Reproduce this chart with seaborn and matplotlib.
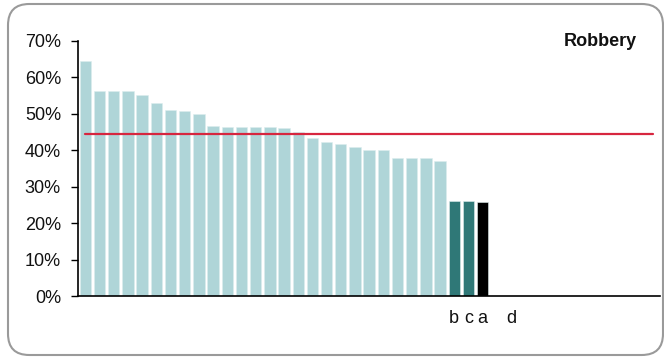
import numpy as np
import pandas as pd
import matplotlib
matplotlib.use("Agg")
import matplotlib.pyplot as plt
from matplotlib.patches import FancyBboxPatch
from matplotlib.ticker import PercentFormatter
import seaborn as sns

# ---- data ----
slots = [f"s{i:02d}" for i in range(41)]
tick_labels = [""] * 26 + ["b", "c", "a", "", "d"] + [""] * 10
values = [0.644, 0.562, 0.562, 0.562, 0.551, 0.529, 0.510, 0.507, 0.499,
          0.466, 0.464, 0.463, 0.463, 0.463, 0.460, 0.449, 0.433, 0.423,
          0.418, 0.409, 0.402, 0.402, 0.380, 0.380, 0.378, 0.371,
          0.262, 0.262, 0.258]
groups = ["other"] * 26 + ["highlight", "highlight", "focus"]
average = 0.445
panel_label = "Robbery"

palette = {"other": "#AFD5D8", "highlight": "#2F7877", "focus": "#000000"}

df = pd.DataFrame({"slot": slots[:len(values)], "value": values, "group": groups})

sns.set_theme(style="white")
plt.rcParams["font.family"] = ["Liberation Sans", "DejaVu Sans"]

fig = plt.figure(figsize=(6.64, 3.58), dpi=100)
ax = fig.add_axes([78.3 / 664, 1 - 296.3 / 358, (660 - 78.3) / 664, (296.3 - 40.7) / 358])

sns.barplot(data=df, x="slot", y="value", hue="group", palette=palette,
            order=slots, hue_order=["other", "highlight", "focus"],
            dodge=False, width=0.8, saturation=1, edgecolor="#DDEDEE", linewidth=0.4,
            legend=False, ax=ax)

# average line
ax.plot([0, len(slots) - 1], [average, average], color="#D7263F", lw=1.6, zorder=5)

ax.set_xlim(-0.5, len(slots) - 0.5)
ax.set_ylim(0, 0.70)
ax.set_yticks(np.arange(0, 0.71, 0.10))
ax.yaxis.set_major_formatter(PercentFormatter(1.0, decimals=0))
ax.set_xticks(range(len(slots)))
ax.set_xticklabels(tick_labels)
ax.set_xlabel("")
ax.set_ylabel("")
ax.tick_params(axis="y", which="both", left=True, length=5, width=1, color="black",
               pad=7.5, labelsize=13, labelcolor="#111111")
ax.tick_params(axis="x", length=0, pad=10, labelsize=13, labelcolor="#111111")
for s in ["top", "right"]:
    ax.spines[s].set_visible(False)
for s in ["left", "bottom"]:
    ax.spines[s].set_color("black")
    ax.spines[s].set_linewidth(1.2)

ax.text(0.96, 0.995, panel_label, transform=ax.transAxes, ha="right", va="center",
        fontsize=13, fontweight="bold", color="#111111")

# rounded frame
frame = FancyBboxPatch((8 / 664, 3 / 358), (663 - 8) / 664, (354 - 3) / 358,
                       boxstyle="round,pad=0,rounding_size=0.032",
                       transform=fig.transFigure, fill=False,
                       edgecolor="#9A9A9A", linewidth=1.5, mutation_aspect=664 / 358)
fig.patches.append(frame)

fig.savefig("out.png", dpi=100)
